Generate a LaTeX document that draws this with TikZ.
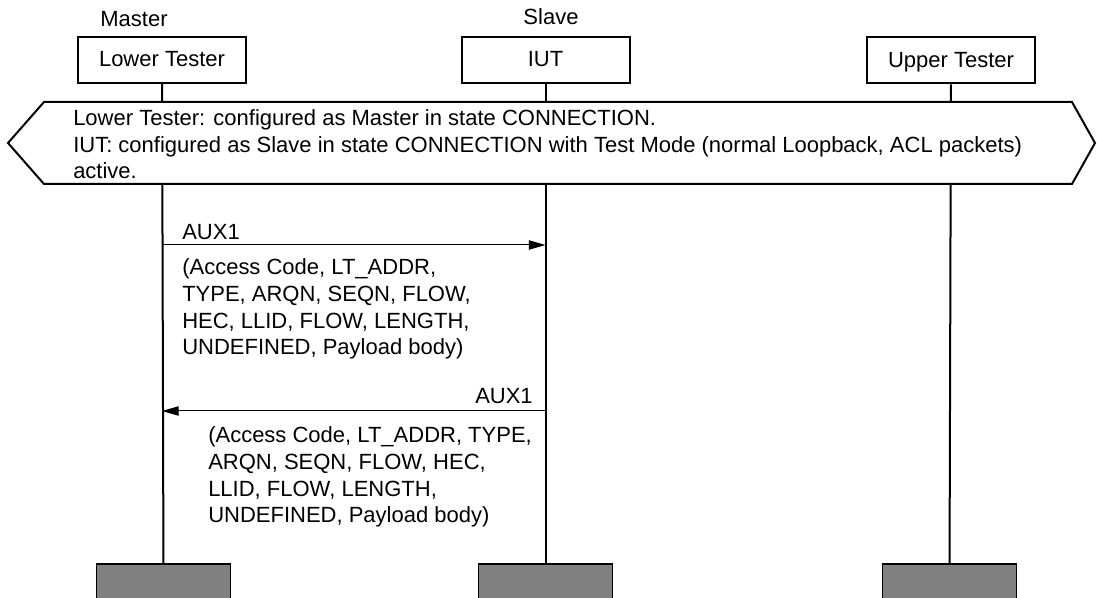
\documentclass[tikz,border=0pt]{standalone}
\usepackage{fontspec}
\setmainfont{Liberation Sans}
\usetikzlibrary{arrows.meta, positioning}

\begin{document}
\begin{tikzpicture}[
    x=0.75pt, y=-0.75pt,
    every node/.style={font=\fontsize{16.5}{20}\selectfont},
    actor/.style={rectangle, draw=black, line width=1.5pt, minimum width=126pt,
                  minimum height=34.5pt, inner sep=0pt,
                  text height=13pt, text depth=3pt},
    stop/.style={rectangle, draw=black, fill=black!50, line width=0.8pt,
                 minimum width=101pt, minimum height=27pt, inner sep=0pt},
    life/.style={line width=1.5pt},
    cond/.style={draw=black, fill=white, line width=1.5pt},
    msg/.style={-{Triangle[length=12.5pt, width=7pt]}, line width=0.75pt},
    txt/.style={inner sep=0pt, align=left}
  ]
  \useasboundingbox (0,0) rectangle (1097,598);

  %% Instances
  \node[actor] (lt)  at (162,60)   {Lower Tester};
  \node[actor] (iut) at (545.5,60) {IUT};
  \node[actor] (ut)  at (951,60.5) {Upper Tester};
  \node[txt, anchor=base] (mst) at (134,27) {Master};
  \node[txt, anchor=base] (slv) at (551,25) {Slave};

  %% Instance ends
  \node[stop] (ltend)  at (163.5,582) {};
  \node[stop] (iutend) at (545.5,582) {};
  \node[stop] (utend)  at (949.5,582) {};

  %% Life lines
  \draw[life] (lt)  -- (ltend);
  \draw[life] (iut) -- (iutend);
  \draw[life] (ut)  -- (utend);

  %% Initial condition (base = last line)
  \draw[cond] (8,143) -- (44,102) -- (1072,102) -- (1095,143)
              -- (1072,184) -- (44,184) -- cycle;
  \node[txt, anchor=base west] (cfg) at (73,179)
    {Lower Tester: configured as Master in state CONNECTION.\\
     IUT: configured as Slave in state CONNECTION with Test Mode (normal Loopback, ACL packets)\\
     active.};

  %% Messages
  \coordinate (m1) at (0,245);
  \coordinate (m2) at (0,411);
  \draw[msg] (lt |- m1) -- (iut |- m1);
  \draw[msg] (iut |- m2) -- (lt |- m2);

  \node[txt, anchor=base west] (aux1) at (182,240) {AUX1};
  \node[txt, anchor=base west] (par1) at (182,355)
    {(Access Code, LT\_ADDR,\\TYPE, ARQN, SEQN, FLOW,\\HEC, LLID, FLOW, LENGTH,\\UNDEFINED, Payload body)};
  \node[txt, anchor=base east] (aux2) at (533,404) {AUX1};
  \node[txt, anchor=base west] (par2) at (208,523)
    {(Access Code, LT\_ADDR, TYPE,\\ARQN, SEQN, FLOW, HEC,\\LLID, FLOW, LENGTH,\\UNDEFINED, Payload body)};

\end{tikzpicture}
\end{document}
